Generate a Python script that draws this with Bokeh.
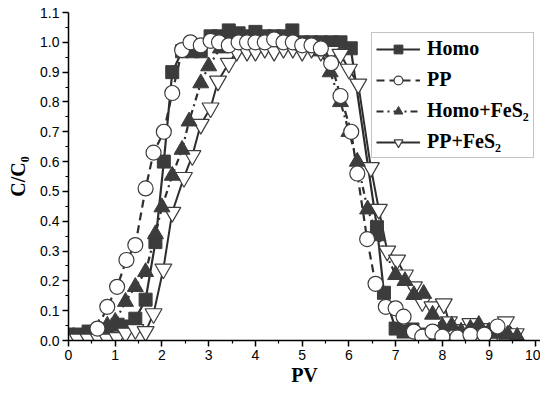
from bokeh.plotting import figure
from bokeh.models import Range1d, Legend, LegendItem, FixedTicker, CustomJSTickFormatter
from bokeh.embed import file_html
from bokeh.resources import INLINE

# ---- data ----
homo_x = [0.0, 0.22, 0.43, 0.65, 0.83, 1.05, 1.22, 1.43, 1.65, 1.86, 2.04, 2.22, 2.43, 2.65, 2.83,
          3.04, 3.22, 3.43, 3.64, 3.82, 4.0, 4.2, 4.4, 4.6, 4.79, 5.0, 5.2, 5.4, 5.62, 5.82, 6.04,
          6.6, 6.75, 7.0, 7.17, 7.36, 7.57, 7.8]
homo_y = [0.02, 0.02, 0.03, 0.03, 0.037, 0.053, 0.047, 0.073, 0.137, 0.33, 0.60, 0.90, 0.97, 0.97, 0.97,
          1.02, 1.02, 1.04, 1.03, 1.02, 1.035, 1.02, 1.02, 1.02, 1.04, 1.0, 1.0, 1.0, 1.0, 1.0, 0.98,
          0.38, 0.16, 0.04, 0.03, 0.037, 0.02, 0.013]

pp_x = [0.62, 0.83, 1.04, 1.24, 1.43, 1.65, 1.82, 2.04, 2.22, 2.43, 2.61, 2.83, 3.04, 3.22, 3.43,
        3.64, 3.82, 4.0, 4.2, 4.4, 4.6, 4.8, 5.0, 5.2, 5.4, 5.62, 5.82, 6.05, 6.18, 6.39, 6.57,
        6.79, 7.0, 7.17, 7.39, 7.57, 7.79, 8.0, 8.32, 8.6, 8.9, 9.18]
pp_y = [0.04, 0.113, 0.18, 0.27, 0.32, 0.51, 0.63, 0.70, 0.83, 0.974, 1.0, 0.99, 1.005, 1.0, 0.99,
        1.0, 1.0, 1.0, 1.0, 1.01, 1.0, 1.0, 0.99, 0.99, 0.98, 0.93, 0.82, 0.70, 0.56, 0.34, 0.19,
        0.113, 0.108, 0.08, 0.03, 0.013, 0.03, 0.013, 0.01, 0.02, 0.02, 0.047]

hf_x = [0.65, 0.83, 1.0, 1.22, 1.43, 1.65, 1.86, 2.0, 2.22, 2.43, 2.58, 2.83, 3.0, 3.25, 3.43,
        3.64, 3.82, 4.0, 4.2, 4.4, 4.6, 4.8, 5.0, 5.2, 5.4, 5.6, 5.82, 6.0, 6.18, 6.4, 6.62,
        7.0, 7.2, 7.39, 7.6, 7.79, 8.0, 8.2, 8.4, 8.6, 8.78, 9.0, 9.2, 9.4, 9.6]
hf_y = [0.04, 0.05, 0.063, 0.13, 0.18, 0.23, 0.357, 0.447, 0.553, 0.64, 0.735, 0.863, 0.92, 0.98, 1.0,
        1.0, 1.0, 1.0, 1.0, 1.01, 1.0, 1.0, 0.99, 0.99, 0.97, 0.90, 0.80, 0.70, 0.60, 0.44, 0.35,
        0.22, 0.20, 0.153, 0.157, 0.087, 0.047, 0.05, 0.03, 0.04, 0.053, 0.03, 0.023, 0.02, 0.013]

pf_x = [0.0, 0.2, 0.43, 0.65, 0.83, 1.04, 1.22, 1.43, 1.65, 1.82, 2.03, 2.22, 2.47, 2.65, 2.83,
        3.04, 3.2, 3.43, 3.6, 3.82, 4.0, 4.2, 4.4, 4.6, 4.8, 5.0, 5.2, 5.4, 5.62, 5.82, 6.0,
        6.2, 6.47, 6.64, 6.82, 7.03, 7.2, 7.39, 7.57, 7.79, 8.03, 8.14, 8.39, 8.6, 8.8, 9.0,
        9.2, 9.36, 9.57]
pf_y = [0.005, 0.005, 0.005, 0.005, 0.005, 0.01, 0.025, 0.037, 0.03, 0.09, 0.24, 0.43, 0.547, 0.62, 0.725,
        0.78, 0.87, 0.93, 0.97, 0.97, 0.97, 0.98, 0.97, 0.98, 0.98, 0.97, 0.98, 0.97, 0.97, 0.96, 0.91,
        0.86, 0.58, 0.44, 0.30, 0.27, 0.22, 0.18, 0.13, 0.113, 0.123, 0.063, 0.037, 0.057, 0.04, 0.03,
        0.03, 0.063, 0.023]

series_names = ["Homo", "PP", "Homo+FeS\u2082", "PP+FeS\u2082"]
x_ticks = [0, 1, 2, 3, 4, 5, 6, 7, 8, 9, 10]
y_ticks = [0.0, 0.1, 0.2, 0.3, 0.4, 0.5, 0.6, 0.7, 0.8, 0.9, 1.0, 1.1]

DARK = "#3c3c3c"
LINE = "#2e2e2e"

p = figure(width=540, height=388, output_backend="svg", toolbar_location=None,
           x_range=Range1d(0, 10.1), y_range=Range1d(0, 1.1),
           min_border_left=68, min_border_right=0, min_border_top=12, min_border_bottom=46)
p.outline_line_color = None
p.grid.visible = False
p.background_fill_color = "white"
p.border_fill_color = "white"

# lines
l1 = p.line(homo_x, homo_y, line_color=LINE, line_width=2.2)
l2 = p.line(pp_x, pp_y, line_color=LINE, line_width=2.2, line_dash="8 5")
l3 = p.line(hf_x, hf_y, line_color=LINE, line_width=2.2, line_dash="7 4 2 4")
l4 = p.line(pf_x, pf_y, line_color=LINE, line_width=2.0)

# markers
m1 = p.scatter(homo_x, homo_y, marker="square", size=13, fill_color=DARK, line_color=DARK)
m4 = p.scatter(pf_x, pf_y, marker="inverted_triangle", size=17, fill_color="white",
               line_color=DARK, line_width=1.2)
m3 = p.scatter(hf_x, hf_y, marker="triangle", size=16, fill_color=DARK, line_color=DARK)
m2 = p.scatter(pp_x, pp_y, marker="circle", size=15, fill_color="white",
               line_color=DARK, line_width=1.2)

legend = Legend(items=[
    LegendItem(label=series_names[0], renderers=[l1, m1]),
    LegendItem(label=series_names[1], renderers=[l2, m2]),
    LegendItem(label=series_names[2], renderers=[l3, m3]),
    LegendItem(label=series_names[3], renderers=[l4, m4]),
])
legend.location = (303, 182)
legend.label_text_font = "Liberation Serif"
legend.label_text_font_style = "bold"
legend.label_text_font_size = "20px"
legend.label_text_color = "black"
legend.glyph_width = 44
legend.glyph_height = 22
legend.label_height = 22
legend.label_standoff = 7
legend.spacing = 8
legend.padding = 4
legend.margin = 0
legend.border_line_color = "#888888"
legend.border_line_width = 1.5
legend.background_fill_alpha = 1.0
p.add_layout(legend, "center")

# axes
for ax in (p.xaxis[0], p.yaxis[0]):
    ax.axis_line_color = "black"
    ax.axis_line_width = 1.5
    ax.major_tick_line_color = "black"
    ax.minor_tick_line_color = "black"
    ax.major_tick_line_width = 1.5
    ax.minor_tick_line_width = 1.2
    ax.major_tick_out = 6
    ax.major_tick_in = 0
    ax.minor_tick_out = 3
    ax.minor_tick_in = 0
    ax.major_label_standoff = 3
    ax.major_label_text_font = "Liberation Sans"
    ax.major_label_text_font_size = "14px"
    ax.major_label_text_color = "black"
    ax.axis_label_text_font = "Liberation Serif"
    ax.axis_label_text_font_style = "bold"
    ax.axis_label_text_font_size = "20px"
    ax.axis_label_text_color = "black"

p.xaxis.ticker = FixedTicker(ticks=x_ticks, minor_ticks=[t + 0.5 for t in x_ticks[:-1]])
p.yaxis.ticker = FixedTicker(ticks=y_ticks, minor_ticks=[round(t + 0.05, 3) for t in y_ticks[:-1]])
p.yaxis.formatter = CustomJSTickFormatter(code="return tick.toFixed(1);")
p.xaxis.axis_label = "PV"
p.yaxis.axis_label = "C/C\u2080"
p.xaxis.axis_label_standoff = 1
p.yaxis.axis_label_standoff = 8

open("out.html", "w").write(file_html(p, INLINE))
